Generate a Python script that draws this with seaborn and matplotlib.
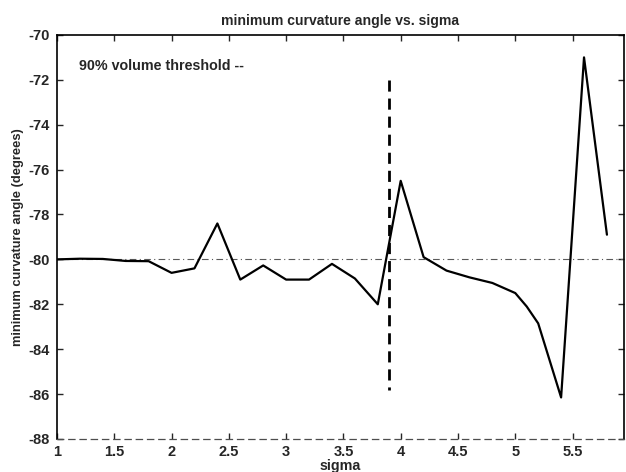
import matplotlib
matplotlib.use("Agg")
import matplotlib.pyplot as plt
import seaborn as sns
import pandas as pd

# values
sigma = [1.0, 1.2, 1.4, 1.6, 1.8, 2.0, 2.2, 2.4, 2.6, 2.8, 3.0, 3.2, 3.4,
         3.6, 3.8, 4.0, 4.2, 4.4, 4.6, 4.8, 5.0, 5.1, 5.2, 5.4, 5.6, 5.8]
angle = [-80.0, -79.97, -79.98, -80.07, -80.08, -80.6, -80.4, -78.4, -80.9,
         -80.27, -80.9, -80.9, -80.2, -80.85, -82.0, -76.5, -79.9, -80.5,
         -80.8, -81.05, -81.5, -82.1, -82.85, -86.15, -71.0, -78.9]
threshold_sigma = 3.9
threshold_span = [-72.0, -85.8]
reference_angle = -80.0
xticks = [1, 1.5, 2, 2.5, 3, 3.5, 4, 4.5, 5, 5.5]
yticks = [-88, -86, -84, -82, -80, -78, -76, -74, -72, -70]

df = pd.DataFrame({"sigma": sigma, "angle": angle})

sns.set_style("ticks", {"xtick.direction": "in", "ytick.direction": "in"})
plt.rcParams["font.family"] = ["Liberation Sans", "DejaVu Sans"]
plt.rcParams["axes.unicode_minus"] = False
plt.rcParams["font.weight"] = "bold"

fig = plt.figure(figsize=(6.26, 4.72), dpi=100)
ax = fig.add_axes([0.091, 0.07, 0.906, 0.856])

ax.axhline(reference_angle, color="0.35", lw=0.8, ls=(0, (6, 3, 1, 3)))
sns.lineplot(data=df, x="sigma", y="angle", ax=ax, color="black", lw=1.6,
             estimator=None, sort=False)
ax.plot([threshold_sigma, threshold_sigma], threshold_span, color="black",
        lw=2.0, ls=(0, (4, 2.5)))

ax.text(1.19, -71.4, "90% volume threshold --", fontsize=10.3,
        fontweight="bold", va="center")

ax.set_xlim(1, 5.95)
ax.set_ylim(-88, -70)
ax.set_xticks(xticks)
ax.set_xticklabels([f"{t:g}" for t in xticks], fontweight="bold")
ax.set_yticks(yticks)
ax.set_yticklabels([f"{t:g}" for t in yticks], fontweight="bold")
ax.tick_params(axis="both", which="both", direction="in", top=True,
               right=True, labelsize=10.5, length=4, width=1)
ax.tick_params(axis="y", pad=5)
ax.tick_params(axis="x", pad=4)

ax.set_title("minimum curvature angle vs. sigma", fontsize=10.1,
             fontweight="bold", pad=7)
ax.set_xlabel("sigma", fontsize=10.3, fontweight="bold", labelpad=0)
ax.set_ylabel("minimum curvature angle (degrees)", fontsize=9.3,
              fontweight="bold", labelpad=3)

for side in ["left", "right", "top"]:
    ax.spines[side].set_linewidth(1.2)
    ax.spines[side].set_color("black")
ax.spines["bottom"].set_linewidth(0.9)
ax.spines["bottom"].set_color("0.3")
ax.spines["bottom"].set_linestyle((0, (5, 4)))

fig.savefig("out.png", dpi=100)
